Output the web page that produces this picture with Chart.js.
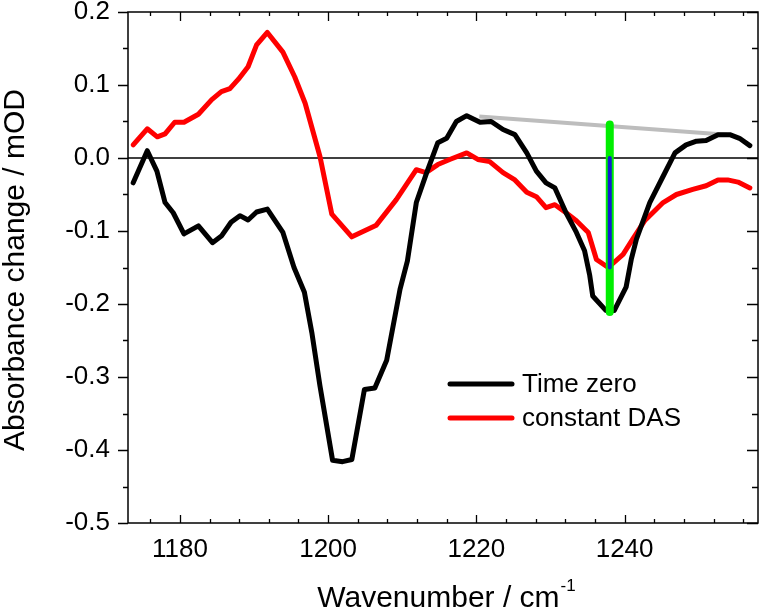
<!DOCTYPE html>
<html>
<head>
<meta charset="utf-8">
<script src="https://cdn.jsdelivr.net/npm/chart.js@4.4.1/dist/chart.umd.min.js"></script>
<style>
  html, body { margin: 0; padding: 0; background: #fff; }
  #c { display: block; }
</style>
</head>
<body>
<canvas id="c" width="760" height="611"></canvas>
<script>
// ---------------- data ----------------
const timeZeroWavenumber = [1173.7,1175.6,1176.9,1178.0,1179.1,1180.55,1182.5,1184.4,1185.6,1186.9,1188.1,1189.2,1190.35,1191.8,1193.9,1195.4,1196.8,1197.8,1198.9,1200.6,1201.95,1203.2,1204.9,1206.3,1207.9,1209.7,1210.7,1211.9,1213.3,1214.8,1216.0,1217.3,1218.7,1220.5,1222.0,1223.6,1225.2,1226.8,1228.1,1229.4,1230.6,1232.1,1233.5,1234.6,1235.3,1235.7,1237.5,1238.6,1240.2,1240.9,1241.6,1243.4,1245.2,1246.8,1248.3,1249.7,1251.0,1252.6,1254.2,1255.5,1256.9];
const timeZero = [-0.034,0.010,-0.018,-0.061,-0.075,-0.104,-0.093,-0.116,-0.107,-0.088,-0.079,-0.085,-0.074,-0.070,-0.102,-0.150,-0.184,-0.239,-0.312,-0.414,-0.416,-0.413,-0.317,-0.315,-0.277,-0.180,-0.141,-0.061,-0.020,0.021,0.027,0.050,0.058,0.049,0.050,0.039,0.032,0.007,-0.018,-0.034,-0.041,-0.075,-0.102,-0.127,-0.161,-0.189,-0.209,-0.209,-0.177,-0.139,-0.111,-0.061,-0.025,0.007,0.018,0.023,0.024,0.032,0.032,0.027,0.017];

const dasWavenumber = [1173.7,1175.6,1176.95,1178.0,1179.3,1180.55,1182.5,1184.3,1185.6,1186.75,1187.9,1189.2,1190.35,1191.8,1193.9,1195.5,1196.9,1198.9,1200.5,1203.2,1206.5,1209.2,1211.9,1213.2,1214.8,1216.4,1218.7,1220.2,1221.8,1223.6,1225.2,1226.8,1228.1,1229.4,1230.6,1232.1,1233.5,1235.1,1236.2,1237.8,1239.8,1241.1,1242.7,1245.2,1247.0,1249.2,1251.0,1252.6,1253.9,1255.3,1256.9];
const constantDAS = [0.018,0.040,0.029,0.033,0.049,0.049,0.060,0.080,0.091,0.095,0.108,0.125,0.155,0.172,0.145,0.111,0.075,0.002,-0.077,-0.108,-0.092,-0.057,-0.016,-0.020,-0.009,-0.002,0.007,-0.002,-0.005,-0.020,-0.030,-0.047,-0.053,-0.068,-0.064,-0.075,-0.086,-0.102,-0.139,-0.150,-0.132,-0.111,-0.086,-0.061,-0.050,-0.043,-0.038,-0.030,-0.030,-0.033,-0.041];

const baselineX = [1220.4, 1253.8];
const baselineY = [0.057, 0.032];
const greenBarX = [1238.0, 1238.0];
const greenBarY = [0.046, -0.211];
const blueBarX = [1238.0, 1238.0];
const blueBarY = [0.0, -0.150];

const xTicks = [1180, 1200, 1220, 1240];
const xTickLabels = ['1180', '1200', '1220', '1240'];
const yTicks = [0.2, 0.1, 0.0, -0.1, -0.2, -0.3, -0.4, -0.5];
const yTickLabels = ['0.2', '0.1', '0.0', '-0.1', '-0.2', '-0.3', '-0.4', '-0.5'];
const legendLabels = ['Time zero', 'constant DAS'];
const xTitle = 'Wavenumber / cm';
const xTitleSup = '-1';
const yTitle = 'Absorbance change / mOD';

// ---------------- helpers ----------------
const zip = (xs, ys) => xs.map((x, i) => ({ x: x, y: ys[i] }));
const FONT = '"Liberation Sans", Arial, sans-serif';

const framePlugin = {
  id: 'frame',
  beforeDatasetsDraw(chart) {
    const { ctx, chartArea: a, scales: { y } } = chart;
    ctx.save();
    ctx.beginPath();
    ctx.rect(a.left, a.top, a.right - a.left, a.bottom - a.top);
    ctx.clip();
    const y0 = y.getPixelForValue(0);
    ctx.strokeStyle = '#000';
    ctx.lineWidth = 1.5;
    ctx.beginPath();
    ctx.moveTo(a.left, y0);
    ctx.lineTo(a.right, y0);
    ctx.stroke();
    ctx.restore();
  },
  afterDraw(chart) {
    const { ctx, chartArea: a, scales: { x, y } } = chart;
    ctx.save();
    ctx.strokeStyle = '#000';
    ctx.lineWidth = 1.5;
    ctx.strokeRect(a.left, a.top, a.right - a.left, a.bottom - a.top);
    ctx.lineWidth = 1.3;
    ctx.beginPath();
    for (let v = 1176; v <= x.max; v += 4) {
      const px = Math.round(x.getPixelForValue(v)) + 0.5;
      const major = (v % 20 === 0);
      const lb = major ? 8 : 4;
      const lt = major ? 9 : 4;
      ctx.moveTo(px, a.bottom); ctx.lineTo(px, a.bottom - lb);
      ctx.moveTo(px, a.top); ctx.lineTo(px, a.top + lt);
    }
    for (let k = -10; k <= 4; k++) {
      const v = k * 0.05;
      const py = Math.round(y.getPixelForValue(v)) + 0.5;
      const major = (k % 2 === 0);
      const ll = major ? 10 : 5;
      const lr = major ? 11 : 6;
      ctx.moveTo(a.left, py); ctx.lineTo(a.left - ll, py);
      ctx.moveTo(a.right, py); ctx.lineTo(a.right - lr, py);
    }
    ctx.stroke();

    // axis titles
    ctx.fillStyle = '#000';
    ctx.font = '30px ' + FONT;
    ctx.textBaseline = 'alphabetic';
    const mainW = ctx.measureText(xTitle).width;
    ctx.font = '17px ' + FONT;
    const supW = ctx.measureText(xTitleSup).width;
    const cx = (a.left + a.right) / 2 + 3;
    const startX = cx - (mainW + supW) / 2;
    ctx.font = '30px ' + FONT;
    ctx.textAlign = 'left';
    ctx.fillText(xTitle, startX, 607);
    ctx.font = '17px ' + FONT;
    ctx.fillText(xTitleSup, startX + mainW + 1, 591);

    ctx.save();
    ctx.translate(24, 270);
    ctx.rotate(-Math.PI / 2);
    ctx.font = '30px ' + FONT;
    ctx.textAlign = 'center';
    ctx.fillText(yTitle, 0, 0);
    ctx.restore();

    // legend
    const legendColors = ['#000000', '#ff0000'];
    const legendY = [384, 418];
    ctx.lineCap = 'round';
    ctx.font = '26px ' + FONT;
    ctx.textAlign = 'left';
    ctx.textBaseline = 'middle';
    for (let i = 0; i < legendLabels.length; i++) {
      ctx.strokeStyle = legendColors[i];
      ctx.lineWidth = 5;
      ctx.beginPath();
      ctx.moveTo(450, legendY[i]);
      ctx.lineTo(512, legendY[i]);
      ctx.stroke();
      ctx.fillStyle = '#000';
      ctx.fillText(legendLabels[i], 522, legendY[i] + 1);
    }
    ctx.restore();
  }
};

new Chart(document.getElementById('c'), {
  type: 'line',
  data: {
    datasets: [
      { label: 'baseline', data: zip(baselineX, baselineY), borderColor: '#bdbdbd', borderWidth: 4, pointRadius: 0, order: 5, borderCapStyle: 'butt' },
      { label: legendLabels[1], data: zip(dasWavenumber, constantDAS), borderColor: '#ff0000', borderWidth: 5, pointRadius: 0, order: 4, borderJoinStyle: 'round', borderCapStyle: 'round' },
      { label: legendLabels[0], data: zip(timeZeroWavenumber, timeZero), borderColor: '#000000', borderWidth: 5, pointRadius: 0, order: 3, borderJoinStyle: 'round', borderCapStyle: 'round' },
      { label: 'green', data: zip(greenBarX, greenBarY), borderColor: '#00ee00', borderWidth: 8, pointRadius: 0, order: 2, borderCapStyle: 'round' },
      { label: 'blue', data: zip(blueBarX, blueBarY), borderColor: '#1020d0', borderWidth: 4, pointRadius: 0, order: 1, borderCapStyle: 'round' }
    ]
  },
  options: {
    responsive: false,
    animation: false,
    devicePixelRatio: 1,
    layout: { padding: { left: 0, right: 2, top: 12, bottom: 0 } },
    plugins: { legend: { display: false }, tooltip: { enabled: false } },
    elements: { line: { tension: 0 } },
    scales: {
      x: {
        type: 'linear',
        min: 1173,
        max: 1258,
        grid: { display: false, drawTicks: false },
        border: { display: false },
        afterBuildTicks: (s) => { s.ticks = xTicks.map(v => ({ value: v })); },
        afterFit: (s) => { s.height = 88; s.paddingLeft = 0; s.paddingRight = 0; },
        ticks: {
          callback: (v) => xTickLabels[xTicks.indexOf(v)],
          font: { family: FONT, size: 26 },
          color: '#000',
          padding: 11,
          maxRotation: 0,
          autoSkip: false
        }
      },
      y: {
        type: 'linear',
        min: -0.5,
        max: 0.2,
        grid: { display: false, drawTicks: false },
        border: { display: false },
        afterBuildTicks: (s) => { s.ticks = yTicks.map(v => ({ value: v })); },
        afterFit: (s) => { s.width = 128; s.paddingTop = 0; s.paddingBottom = 0; },
        ticks: {
          callback: (v) => {
            const i = yTicks.findIndex(t => Math.abs(t - v) < 1e-9);
            return yTickLabels[i];
          },
          font: { family: FONT, size: 26 },
          color: '#000',
          padding: 18,
          autoSkip: false
        }
      }
    }
  },
  plugins: [framePlugin]
});
</script>
</body>
</html>
